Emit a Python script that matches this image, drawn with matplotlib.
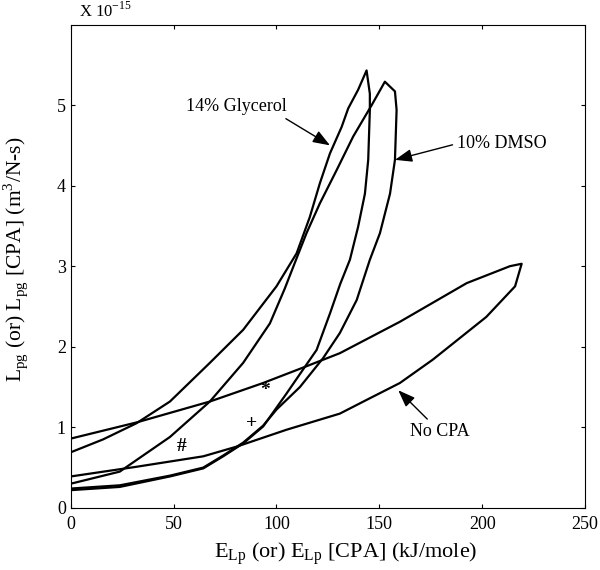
import numpy as np
import matplotlib.pyplot as plt

plt.rcParams['font.family'] = ['Liberation Serif', 'DejaVu Serif']
plt.rcParams['mathtext.fontset'] = 'custom'
plt.rcParams['mathtext.rm'] = 'Liberation Serif'

# 14% Glycerol loop (y in units of 1e-15)
gly_x = [0, 15.7, 31.9, 48.2, 67.6, 83.8, 100, 109.8, 116.2, 121.1, 126, 131.7, 134.9, 139.7, 143.8,
         145.4, 145.4, 144.6, 143, 139.7, 135.7, 131, 126.1, 119.5, 113.8, 104.9, 93.5, 83.8, 74.1, 64.4, 48.2, 23.8, 0]
gly_y = [0.69, 0.85, 1.05, 1.32, 1.80, 2.21, 2.75, 3.16, 3.61, 4.03, 4.40, 4.73, 4.96, 5.19, 5.43,
         5.14, 4.94, 4.32, 3.90, 3.49, 3.08, 2.78, 2.42, 1.96, 1.75, 1.42, 1.01, 0.80, 0.64, 0.49, 0.39, 0.26, 0.22]

# 10% DMSO loop
dmso_x = [0, 23.8, 48.2, 67.6, 83.8, 96.8, 104, 109.5, 114.6, 121.1, 129.2, 137.3, 146.3, 152.7,
          157.6, 158.4, 157.6, 155.2, 150.3, 145.4, 139, 130.8, 122.7, 111.4, 100, 93.5, 83.8, 74.1, 64.4, 48.2, 23.8, 0]
dmso_y = [0.30, 0.45, 0.88, 1.32, 1.80, 2.29, 2.72, 3.08, 3.41, 3.78, 4.19, 4.61, 5.00, 5.29,
          5.17, 4.94, 4.32, 3.90, 3.41, 3.08, 2.58, 2.17, 1.86, 1.50, 1.22, 1.02, 0.81, 0.65, 0.50, 0.40, 0.28, 0.24]

# No CPA loop
nocpa_x = [0, 31.9, 67.6, 93.5, 113.8, 130.8, 160, 192.5, 213.5, 219.2,
           216, 202, 176, 160, 143.8, 130.8, 104.9, 80.6, 64.4, 31.9, 0]
nocpa_y = [0.86, 1.06, 1.32, 1.55, 1.75, 1.92, 2.31, 2.79, 3.00, 3.03,
           2.75, 2.37, 1.84, 1.55, 1.34, 1.17, 0.97, 0.76, 0.64, 0.51, 0.39]

# point symbols
sym_text = ['*', '+', '#']
sym_x = [94.4, 87.9, 53.8]
sym_y = [1.46, 1.05, 0.76]

fig = plt.figure(figsize=(6, 5.7), dpi=100)
ax = fig.add_axes([0.118, 0.109, 0.857, 0.848])

for xs, ys in [(gly_x, gly_y), (dmso_x, dmso_y), (nocpa_x, nocpa_y)]:
    ax.plot(xs, ys, color='black', lw=1.6)

for t, x, y in zip(sym_text, sym_x, sym_y):
    ax.text(x, y, t, fontsize=14, ha='center', va='center', fontweight='bold')

def arrow(rel):
    return dict(arrowstyle='-|>,head_length=0.8,head_width=0.3', color='black',
                lw=1.0, relpos=rel, shrinkA=1, shrinkB=0)

ax.annotate('14% Glycerol', xy=(126, 4.5), xytext=(80.7, 4.98), fontsize=13,
            ha='center', va='center', arrowprops=arrow((0.93, 0.0)))
ax.annotate('10% DMSO', xy=(157.6, 4.32), xytext=(187.6, 4.52), fontsize=13,
            ha='left', va='center', arrowprops=arrow((0.0, 0.5)))
ax.annotate('No CPA', xy=(159.2, 1.46), xytext=(179.5, 0.95), fontsize=13,
            ha='center', va='center', arrowprops=arrow((0.35, 1.0)))

ax.set_xlim(0, 250)
ax.set_ylim(0, 6)
ax.set_xticks([0, 50, 100, 150, 200, 250])
ax.set_yticks([0, 1, 2, 3, 4, 5])
ax.tick_params(direction='in', length=3, top=True, right=True, labelsize=13)
ax.tick_params(axis='x', pad=6)

ax.set_xlabel(r'E$_{\mathregular{Lp}}$ (or) E$_{\mathregular{Lp}}$ [CPA] (kJ/mole)', fontsize=16)
ax.set_ylabel(r'L$_{\mathregular{pg}}$ (or) L$_{\mathregular{pg}}$ [CPA] (m$^{\mathregular{3}}$/N-s)', fontsize=15.5)
ax.xaxis.set_label_coords(0.535, -0.096)
ax.xaxis.label.set_va('center')
ax.yaxis.set_label_coords(-0.108, 0.515)
ax.yaxis.label.set_va('center')
ax.text(0.015, 1.008, r'X 10$^{\mathregular{-15}}$', transform=ax.transAxes, fontsize=12, ha='left', va='bottom')

fig.savefig('out.png')
